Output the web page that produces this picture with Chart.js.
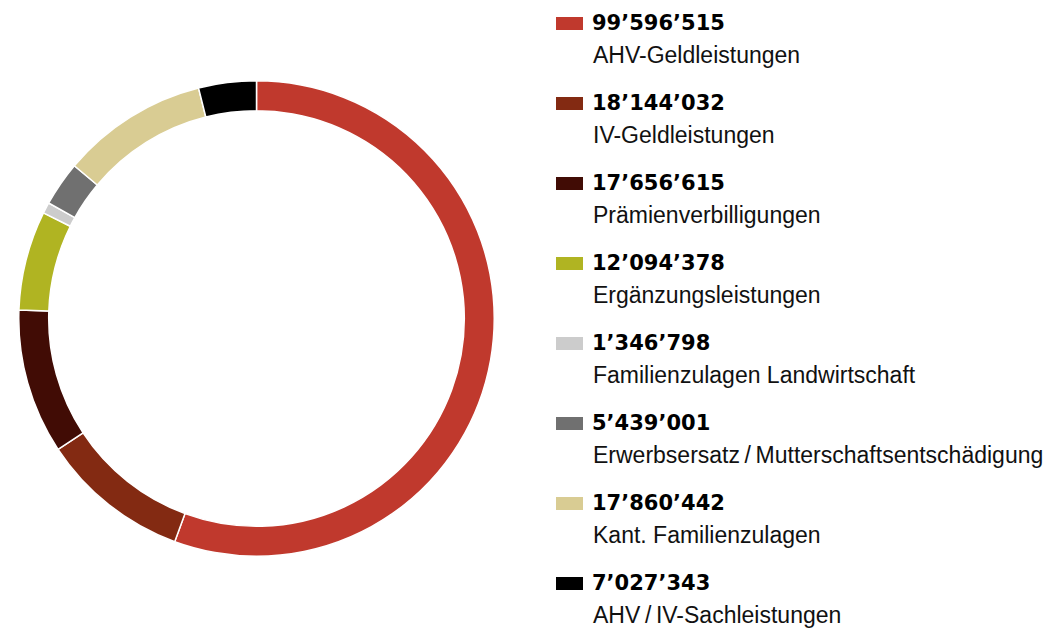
<!DOCTYPE html>
<html>
<head>
<meta charset="utf-8">
<script src="https://cdn.jsdelivr.net/npm/chart.js@4/dist/chart.umd.min.js"></script>
<style>
  html, body { margin: 0; padding: 0; background: #fff; }
  body { width: 1046px; height: 630px; position: relative; overflow: hidden;
         font-family: "Liberation Sans", Arial, Helvetica, sans-serif; color: #111; }
  #chartBox { position: absolute; left: 18px; top: 80px; width: 477px; height: 477px; }
  #legend { position: absolute; left: 556px; top: 0; }
  .item { position: absolute; left: 0; width: 490px; height: 80px; }
  .swatch { position: absolute; left: 0; top: 17px; width: 27px; height: 13px; }
  .value { position: absolute; left: 36px; top: 11px; font-family: "DejaVu Sans", sans-serif;
           font-size: 21px; font-weight: bold; color: #000; white-space: nowrap; }
  .label { position: absolute; left: 37px; top: 41.5px; font-size: 23px; white-space: nowrap; }
</style>
</head>
<body>
<div id="chartBox"><canvas id="chartLeistungen"></canvas></div>
<div id="legend"></div>
<script>
// Daten
const categories = [
    'AHV-Geldleistungen',
    'IV-Geldleistungen',
    'Prämienverbilligungen',
    'Ergänzungsleistungen',
    'Familienzulagen Landwirtschaft',
    'Erwerbsersatz\u2009/\u2009Mutterschaftsentschädigung',
    'Kant. Familienzulagen',
    'AHV\u2009/\u2009IV-Sachleistungen'
];
const values = [99596515, 18144032, 17656615, 12094378, 1346798, 5439001, 17860442, 7027343];
const colors = ['#c0392d', '#832a12', '#410c05', '#b0b422', '#cccccc', '#707070', '#d9cc93', '#000000'];

// Zahl mit Apostroph als Tausendertrennzeichen
const formatZahl = n => String(n).replace(/\B(?=(\d{3})+(?!\d))/g, '\u2019');

document.addEventListener('DOMContentLoaded', function () {
    const ctx = document.getElementById('chartLeistungen').getContext('2d');

    new Chart(ctx, {
        type: 'doughnut',
        data: {
            labels: categories,
            datasets: [{
                data: values,
                backgroundColor: colors,
                borderColor: '#ffffff',
                borderWidth: 1.5
            }]
        },
        options: {
            responsive: true,
            maintainAspectRatio: false,
            animation: false,
            cutout: '87.4%',
            layout: { padding: 0 },
            plugins: {
                legend: { display: false },
                tooltip: { enabled: false }
            }
        }
    });

    // Legende rechts
    const legend = document.getElementById('legend');
    categories.forEach((cat, i) => {
        const item = document.createElement('div');
        item.className = 'item';
        item.style.top = (i * 80) + 'px';
        item.innerHTML =
            '<div class="swatch" style="background:' + colors[i] + '"></div>' +
            '<div class="value">' + formatZahl(values[i]) + '</div>' +
            '<div class="label">' + cat + '</div>';
        legend.appendChild(item);
    });
});
</script>
</body>
</html>
